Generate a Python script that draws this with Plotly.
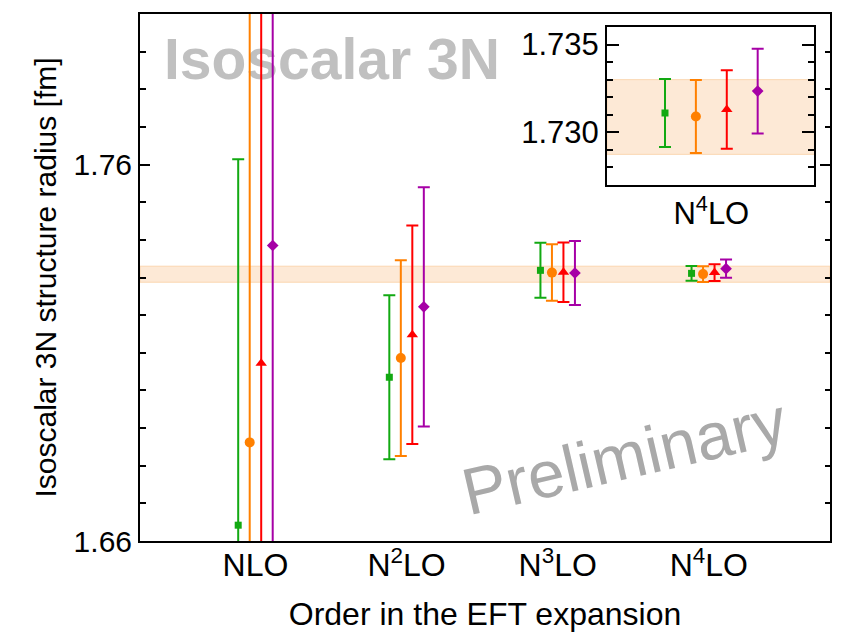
import plotly.graph_objects as go

# ---- data ----
orders = ["NLO", "N<sup>2</sup>LO", "N<sup>3</sup>LO", "N<sup>4</sup>LO"]
series_names = ["Set 1", "Set 2", "Set 3", "Set 4"]

green_val = [1.6642, 1.7035, 1.7319, 1.7311]
green_err = [0.0972, 0.0218, 0.0073, 0.00194]
orange_val = [1.6862, 1.7086, 1.7313, 1.7309]
orange_err = [0.125, 0.0260, 0.0075, 0.00208]
red_val = [1.7072, 1.7148, 1.7314, 1.7313]
red_err = [0.130, 0.0290, 0.0079, 0.00224]
purple_val = [1.7385, 1.7222, 1.7312, 1.73235]
purple_err = [0.140, 0.0318, 0.0085, 0.00241]

band_lo = 1.72875
band_hi = 1.7330

y_ticks_main = [1.66, 1.76]
y_ticks_inset = [1.730, 1.735]

# ---- styles ----
colors = ["#12a912", "#ff8000", "#ff0000", "#a600a6"]
symbols = ["square", "circle", "triangle-up", "diamond"]
sizes = [7, 10, 10, 9]
vals = [green_val, orange_val, red_val, purple_val]
errs = [green_err, orange_err, red_err, purple_err]
FONT = "Liberation Sans, Arial, Helvetica, sans-serif"

main_xrange = [-0.764, 3.802]
inset_xrange = [-1.877, 4.838]

fig = go.Figure()

# uncertainty bands drawn first (beneath the data)
band_fill = "#fde9d6"
band_line = "#fbd6b0"
for xr, xa, ya in [(main_xrange, "x", "y"), (inset_xrange, "x2", "y2")]:
    fig.add_trace(go.Scatter(
        x=[xr[0], xr[1], xr[1], xr[0], xr[0]],
        y=[band_lo, band_lo, band_hi, band_hi, band_lo],
        mode="lines", fill="toself", fillcolor=band_fill,
        line=dict(color=band_line, width=1),
        showlegend=False, hoverinfo="skip", xaxis=xa, yaxis=ya))

# watermark title drawn beneath the data
fig.add_trace(go.Scatter(
    x=[-0.605], y=[1.7864], mode="text", text=["<b>Isoscalar 3N</b>"],
    textposition="middle right",
    textfont=dict(family=FONT, size=57, color="#c0c0c0"),
    showlegend=False, hoverinfo="skip", xaxis="x", yaxis="y"))

offset_step = 0.0761
n = len(series_names)
for k in range(n):
    off = (k - (n - 1) / 2) * offset_step
    xs = [i + off for i in range(len(orders))]
    fig.add_trace(go.Scatter(
        x=xs, y=vals[k], mode="markers", name=series_names[k],
        marker=dict(symbol=symbols[k], size=sizes[k], color=colors[k]),
        error_y=dict(type="data", array=errs[k], visible=True,
                     color=colors[k], thickness=2, width=6),
        showlegend=False, xaxis="x", yaxis="y"))

# inset: last order only
for k in range(n):
    fig.add_trace(go.Scatter(
        x=[k], y=[vals[k][-1]], mode="markers", name=series_names[k],
        marker=dict(symbol=symbols[k], size=sizes[k], color=colors[k]),
        error_y=dict(type="data", array=[errs[k][-1]], visible=True,
                     color=colors[k], thickness=2, width=6),
        showlegend=False, xaxis="x2", yaxis="y2"))

fig.add_annotation(
    text="Preliminary", xref="paper", yref="paper", x=0.7015, y=0.1614,
    xanchor="center", yanchor="middle", textangle=-13, showarrow=False,
    font=dict(family=FONT, size=66, color="#a9a9a9"))

axis_common = dict(showline=True, linecolor="black", linewidth=2, mirror=True,
                   showgrid=False, zeroline=False)

fig.update_layout(
    width=835, height=624,
    margin=dict(l=132, r=13, t=4, b=91),
    paper_bgcolor="white", plot_bgcolor="white",
    font=dict(family=FONT, color="black"),
    xaxis=dict(**axis_common, range=main_xrange, tickvals=list(range(len(orders))),
               ticktext=orders, ticks="", tickfont=dict(size=32), ticklabelstandoff=-5,
               title=dict(text="Order in the EFT expansion", font=dict(size=32), standoff=20)),
    yaxis=dict(showline=True, linecolor="black", linewidth=2, mirror="ticks",
               showgrid=False, zeroline=False,
               range=[1.66, 1.80], tickvals=y_ticks_main, tickformat=".2f",
               ticks="inside", ticklen=10, tickwidth=1.5, tickcolor="black",
               tickfont=dict(size=30),
               minor=dict(ticks="inside", ticklen=5.5, dtick=0.01, tick0=1.66,
                          tickwidth=1.5, tickcolor="black", showgrid=False),
               title=dict(text="Isoscalar 3N structure radius [fm]", font=dict(size=30), standoff=8)),
    xaxis2=dict(**axis_common, domain=[0.6768, 0.9775], anchor="y2",
                range=inset_xrange, tickvals=[1.5], ticktext=[orders[-1]],
                ticks="", tickfont=dict(size=31)),
    yaxis2=dict(showline=True, linecolor="black", linewidth=2, mirror="ticks",
                showgrid=False, zeroline=False,
                domain=[0.6754, 0.9754], anchor="x2",
                range=[1.727, 1.736], tickvals=y_ticks_inset, tickformat=".3f",
                ticks="inside", ticklen=12, tickwidth=1.5, tickcolor="black",
                tickfont=dict(size=31),
                minor=dict(ticks="inside", ticklen=6.5, dtick=0.001, tick0=1.727,
                           tickwidth=1.5, tickcolor="black", showgrid=False)),
)

fig.write_html("out.html")
